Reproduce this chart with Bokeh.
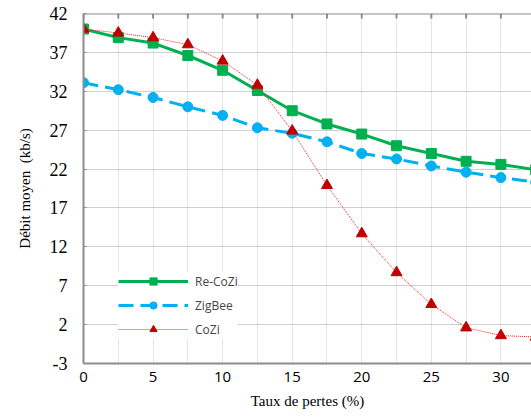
from bokeh.plotting import figure
from bokeh.models import (Range1d, FixedTicker, Legend, LegendItem, Span)
from bokeh.embed import file_html
from bokeh.resources import INLINE

x = [0, 2.5, 5, 7.5, 10, 12.5, 15, 17.5, 20, 22.5, 25, 27.5, 30, 32.5]
recozi = [40.0, 38.9, 38.2, 36.6, 34.7, 32.1, 29.5, 27.8, 26.5, 25.0, 24.0, 23.0, 22.6, 21.9]
zigbee = [33.1, 32.2, 31.2, 30.0, 28.9, 27.3, 26.6, 25.5, 24.0, 23.3, 22.4, 21.6, 20.9, 20.3]
cozi = [40.0, 39.5, 38.9, 38.0, 35.9, 32.8, 26.9, 19.9, 13.7, 8.7, 4.6, 1.6, 0.6, 0.4]
y_ticks = [-3, 2, 7, 12, 17, 22, 27, 32, 37, 42]
x_ticks = [0, 5, 10, 15, 20, 25, 30]
x_minor = [0, 2.5, 5, 7.5, 10, 12.5, 15, 17.5, 20, 22.5, 25, 27.5, 30, 32.5]
Y_MIN, Y_MAX = -3, 42

p = figure(width=531, height=417, output_backend="svg", toolbar_location=None,
           x_range=Range1d(0, 32.2), y_range=Range1d(Y_MIN, Y_MAX),
           min_border_left=83, min_border_right=0, min_border_top=13, min_border_bottom=54)
p.outline_line_color = None
p.background_fill_color = "white"

# axes
p.xaxis.ticker = FixedTicker(ticks=x_ticks)
p.yaxis.ticker = FixedTicker(ticks=y_ticks)
p.yaxis.major_label_overrides = {t: str(t) for t in y_ticks}
for ax in (p.xaxis[0], p.yaxis[0]):
    ax.axis_line_color = "#8c8c8c"
    ax.axis_line_width = 2
    ax.minor_tick_line_color = None
    ax.major_label_text_color = "#000000"
    ax.axis_label_text_font_style = "normal"
    ax.axis_label_text_color = "#000000"
p.xaxis.major_tick_line_color = None
p.yaxis.major_tick_line_color = "#8c8c8c"
p.yaxis.major_tick_in = 3
p.yaxis.major_tick_out = 0
p.xaxis.major_label_text_font = "Open Sans"
p.xaxis.major_label_text_font_size = "15px"
p.yaxis.major_label_text_font = "Liberation Serif"
p.yaxis.major_label_text_font_size = "18px"
p.xaxis.axis_label = "Taux de pertes (%)"
p.yaxis.axis_label = "Débit moyen\u00a0 (kb/s)"
p.xaxis.axis_label_text_font = "Liberation Serif"
p.yaxis.axis_label_text_font = "Liberation Serif"
p.xaxis.axis_label_text_font_size = "15px"
p.yaxis.axis_label_text_font_size = "15px"
p.xaxis.major_label_standoff = 2
p.xaxis.axis_label_standoff = 8
p.yaxis.major_label_standoff = 16
p.yaxis.axis_label_standoff = 14

# top border with tick marks
p.add_layout(Span(location=Y_MAX, dimension="width", line_color="#8c8c8c", line_width=2))
p.segment(x0=x_minor, y0=[Y_MAX] * len(x_minor), x1=x_minor,
          y1=[Y_MAX - 0.65] * len(x_minor), line_color="#8c8c8c", line_width=2)

# grids
p.xgrid.ticker = FixedTicker(ticks=x_minor)
p.xgrid.grid_line_color = "#e6e6e6"
p.xgrid.grid_line_width = 1
p.ygrid.ticker = FixedTicker(ticks=y_ticks)
p.ygrid.grid_line_color = "#a0a0a0"
p.ygrid.grid_line_dash = "1 1"
p.ygrid.grid_line_width = 1

green = "#00b050"
blue = "#00b0f0"
red = "#c00000"

l1 = p.line(x, recozi, line_color=green, line_width=3)
m1 = p.scatter(x, recozi, marker="square", size=10, fill_color=green, line_color=green)
l2 = p.line(x, zigbee, line_color=blue, line_width=3, line_dash="15 7")
m2 = p.scatter(x, zigbee, marker="circle", size=10, fill_color=blue, line_color=blue)
l3 = p.line(x, cozi, line_color="#ff2020", line_width=1, line_dash="1 1")
m3 = p.scatter(x, cozi, marker="triangle", size=11, fill_color=red, line_color=red)

legend = Legend(items=[LegendItem(label="Re-CoZi", renderers=[l1, m1]),
                       LegendItem(label="ZigBee", renderers=[l2, m2]),
                       LegendItem(label="CoZi", renderers=[l3, m3])],
                location=(35, 25), background_fill_color="white", background_fill_alpha=1,
                border_line_color=None, label_text_font="Open Sans",
                label_text_font_size="12px", glyph_width=70, glyph_height=18,
                spacing=6, label_standoff=7, padding=20, margin=0)
p.add_layout(legend, "center")

open("out.html", "w").write(file_html(p, INLINE))
